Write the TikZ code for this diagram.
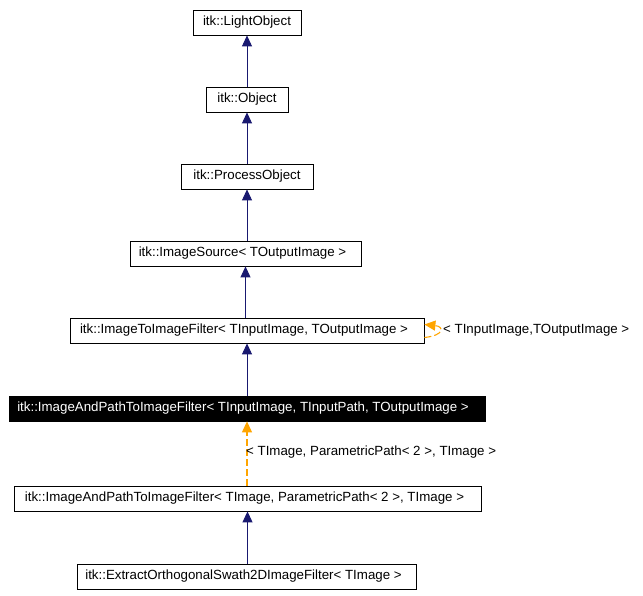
\documentclass[tikz,border=0pt]{standalone}
\usepackage{fontspec}
\setmainfont{Liberation Sans}
\usetikzlibrary{arrows.meta}
\definecolor{navy}{HTML}{191970}
\definecolor{orng}{HTML}{FFA500}
\begin{document}
\begin{tikzpicture}[x=1pt,y=-1pt,
  cls/.style={draw=black,fill=white,minimum height=25pt,inner ysep=0pt,inner xsep=0pt,font=\fontsize{13.3}{15}\selectfont,line width=0.8pt},
  cur/.style={cls,fill=black,text=white},
  inh/.style={draw=navy,line width=0.9pt,-{Triangle[length=11pt,width=10pt]}},
  tmpl/.style={draw=orng,line width=1.1pt,dash pattern=on 7pt off 3pt,-{Triangle[length=11pt,width=10pt]}},
  lbl/.style={font=\fontsize{13.3}{15}\selectfont,inner sep=0pt,anchor=west}]
\useasboundingbox (0,0) rectangle (643,596);
\node[cls,minimum width=108pt] (b1) at (247,22.5) {itk::LightObject};
\node[cls,minimum width=82pt] (b2) at (247,99.5) {itk::Object};
\node[cls,minimum width=132pt] (b3) at (247,176.5) {itk::ProcessObject};
\node[cls,minimum width=231pt] (b4) at (245.5,253.5) {\hspace*{-6pt}itk::ImageSource< TOutputImage >};
\node[cls,minimum width=354pt] (b5) at (247,330.5) {\hspace*{-6pt}itk::ImageToImageFilter< TInputImage, TOutputImage >};
\node[cur,minimum width=476pt] (b6) at (247,408.5) {\hspace*{-8pt}itk::ImageAndPathToImageFilter< TInputImage, TInputPath, TOutputImage >};
\node[cls,minimum width=467pt] (b7) at (247.5,498.5) {\hspace*{-6pt}itk::ImageAndPathToImageFilter< TImage, ParametricPath< 2 >, TImage >};
\node[cls,minimum width=339pt] (b8) at (246.5,576.5) {\hspace*{-6pt}itk::ExtractOrthogonalSwath2DImageFilter< TImage >};
\draw[inh] (b2.north -| b1.south) -- (b1.south);
\draw[inh] (b3.north) -- (b2.south);
\draw[inh] (b4.north -| b3.south) -- (b3.south);
\draw[inh] (b5.north -| b4.south) -- (b4.south);
\draw[inh] (b6.north -| b5.south) -- (b5.south);
\draw[inh] (b8.north -| b7.south) -- (b7.south);
\draw[tmpl] (b7.north -| b6.south) -- (b6.south);
\node[lbl] (l1) at (246,452) {< TImage, ParametricPath< 2 >, TImage >};
\coordinate (s1) at ([yshift=-7pt]b5.east);
\coordinate (s2) at ([yshift=6pt]b5.east);
\draw[tmpl] (s1) .. controls +(20,-2) and +(20,2) .. (s2);
\node[lbl] (l2) at (443,330) {< TInputImage,TOutputImage >};
\end{tikzpicture}
\end{document}
